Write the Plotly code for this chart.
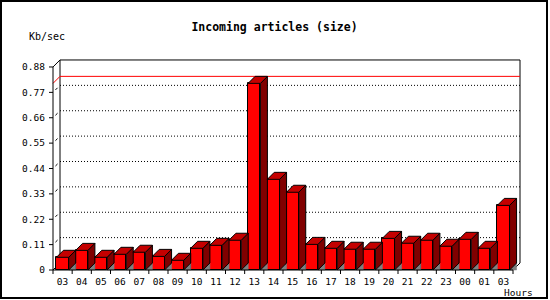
import plotly.graph_objects as go

# ---------------- data ----------------
hours = ["03", "04", "05", "06", "07", "08", "09", "10", "11", "12", "13", "14",
         "15", "16", "17", "18", "19", "20", "21", "22", "23", "00", "01", "03"]
kb_sec = [0.055, 0.085, 0.055, 0.068, 0.077, 0.059, 0.042, 0.094, 0.107, 0.129, 0.809, 0.393,
          0.337, 0.111, 0.094, 0.090, 0.090, 0.137, 0.116, 0.129, 0.103, 0.133, 0.094, 0.280]
y_tick_values = [0, 0.11, 0.22, 0.33, 0.44, 0.55, 0.66, 0.77, 0.88]
y_tick_labels = ["0", "0.11", "0.22", "0.33", "0.44", "0.55", "0.66", "0.77", "0.88"]

# ---------------- geometry (pixels) ----------------
W, H = 550, 300
FRONT_L, FRONT_R, FRONT_B = 53.0, 513.0, 270.0
PX_PER_UNIT = 230.7
DEPTH = 7.0
BAR_PX = 12.3
PLOT_L, PLOT_R, PLOT_T, PLOT_B = 46, 526, 54, 277
PW, PH = PLOT_R - PLOT_L, PLOT_B - PLOT_T

n = len(hours)
cat_px = (FRONT_R - FRONT_L) / n


def xd(px):
    return (px - FRONT_L) / cat_px - 0.5


def yd(py):
    return (FRONT_B - py) / PX_PER_UNIT


def xp(px):
    return (px - PLOT_L) / PW


def yp(py):
    return (PLOT_B - py) / PH


dx = DEPTH / cat_px
dy = DEPTH / PX_PER_UNIT
bw = BAR_PX / cat_px
x_lo, x_hi = -0.5, n - 0.5
y_top = y_tick_values[-1]

FONT = "DejaVu Sans Mono"
RED, TOP, SIDE, GREY = "#ff0000", "#c40000", "#800000", "#808080"

shapes = []


def seg(x0, y0, x1, y1, color="black", width=1, dash="solid", layer="above"):
    shapes.append(dict(type="line", xref="x", yref="y", x0=x0, y0=y0, x1=x1, y1=y1,
                       line=dict(color=color, width=width, dash=dash), layer=layer))


# back grid lines (dotted)
for v in y_tick_values[1:-1]:
    seg(x_lo + dx, v + dy, x_hi + dx, v + dy, dash="1px,2px", layer="below")
# back frame
seg(x_lo + dx, dy, x_lo + dx, y_top + dy, layer="below")
seg(x_lo + dx, y_top + dy, x_hi + dx, y_top + dy, layer="below")
seg(x_hi + dx, y_top + dy, x_hi + dx, dy, layer="below")
# corner connectors
seg(x_lo, y_top, x_lo + dx, y_top + dy, layer="below")
seg(x_lo, 0, x_lo + dx, dy, layer="below")
seg(x_hi, 0, x_hi + dx, dy, layer="below")
# small depth marks at ticks
for v in y_tick_values[1:-1]:
    seg(x_lo + 0.35 * dx, v + 0.35 * dy, x_lo + 0.65 * dx, v + 0.65 * dy, layer="below")
# max line
m = max(kb_sec)
seg(x_lo, m, x_lo + dx, m + dy, color=RED, layer="below")
seg(x_lo + dx, m + dy, x_hi + dx, m + dy, color=RED, layer="below")
# front axes
seg(x_lo, 0, x_lo, y_top)
seg(x_lo, 0, x_hi, 0)
for v in y_tick_values:
    seg(x_lo - 4 / cat_px, v, x_lo, v)
for k in range(n + 1):
    seg(k - 0.5, 0, k - 0.5, -4 / PX_PER_UNIT)

# outer frame
shapes.append(dict(type="rect", xref="paper", yref="paper",
                   x0=xp(1), x1=xp(547), y0=yp(298), y1=yp(1),
                   line=dict(color="black", width=2)))

# ---------------- 3D bar faces ----------------
gx, gy, sx, sy, tx, ty = [], [], [], [], [], []
for i, v in enumerate(kb_sec):
    l, r = i - bw / 2, i + bw / 2
    gx += [r, r + dx, r + dx, r, None]
    gy += [0, dy, 0, 0, None]
    sx += [r, r, r + dx, r + dx, r, None]
    sy += [0, v, v + dy, dy, 0, None]
    tx += [l, l + dx, r + dx, r, l, None]
    ty += [v, v + dy, v + dy, v, v, None]

fig = go.Figure()
fig.add_trace(go.Bar(x=list(range(n)), y=kb_sec, width=bw,
                     marker=dict(color=RED, line=dict(color="black", width=1)),
                     hoverinfo="skip"))
fig.add_trace(go.Scatter(x=gx, y=gy, mode="lines", fill="toself", fillcolor=GREY,
                         line=dict(color=GREY, width=0.5), hoverinfo="skip"))
fig.add_trace(go.Scatter(x=sx, y=sy, mode="lines", fill="toself", fillcolor=SIDE,
                         line=dict(color="black", width=1), hoverinfo="skip"))
fig.add_trace(go.Scatter(x=tx, y=ty, mode="lines", fill="toself", fillcolor=TOP,
                         line=dict(color="black", width=1), hoverinfo="skip"))

fig.update_layout(
    width=W, height=H,
    margin=dict(l=PLOT_L, r=W - PLOT_R, t=PLOT_T, b=H - PLOT_B, pad=0),
    paper_bgcolor="white", plot_bgcolor="white",
    showlegend=False,
    bargap=0,
    title=dict(text="Incoming articles (size)", x=274.5 / W, xref="container", xanchor="center",
               y=1 - 26.7 / H, yref="container", yanchor="middle",
               font=dict(family=FONT, size=11.5, color="black", weight="bold")),
    xaxis=dict(range=[xd(PLOT_L), xd(PLOT_R)], showgrid=False, zeroline=False, showline=False,
               tickmode="array", tickvals=list(range(n)), ticktext=hours, ticks="",
               automargin=False, ticklabelstandoff=-3,
               tickfont=dict(family=FONT, size=9.5, color="black"), fixedrange=True),
    yaxis=dict(range=[yd(PLOT_B), yd(PLOT_T)], showgrid=False, zeroline=False, showline=False,
               tickmode="array", tickvals=y_tick_values, ticktext=y_tick_labels, ticks="",
               automargin=False,
               tickfont=dict(family=FONT, size=9.5, color="black"), fixedrange=True),
    shapes=shapes,
    annotations=[
        dict(text="Kb/sec", xref="paper", yref="paper", x=xp(47), y=yp(36.7),
             xanchor="center", yanchor="middle", showarrow=False,
             font=dict(family=FONT, size=10, color="black")),
        dict(text="Hours", xref="paper", yref="paper", x=xp(518.5), y=yp(292.0),
             xanchor="center", yanchor="middle", showarrow=False,
             font=dict(family=FONT, size=9.5, color="black")),
    ],
)

fig.write_html("out.html", config={"displayModeBar": False})
